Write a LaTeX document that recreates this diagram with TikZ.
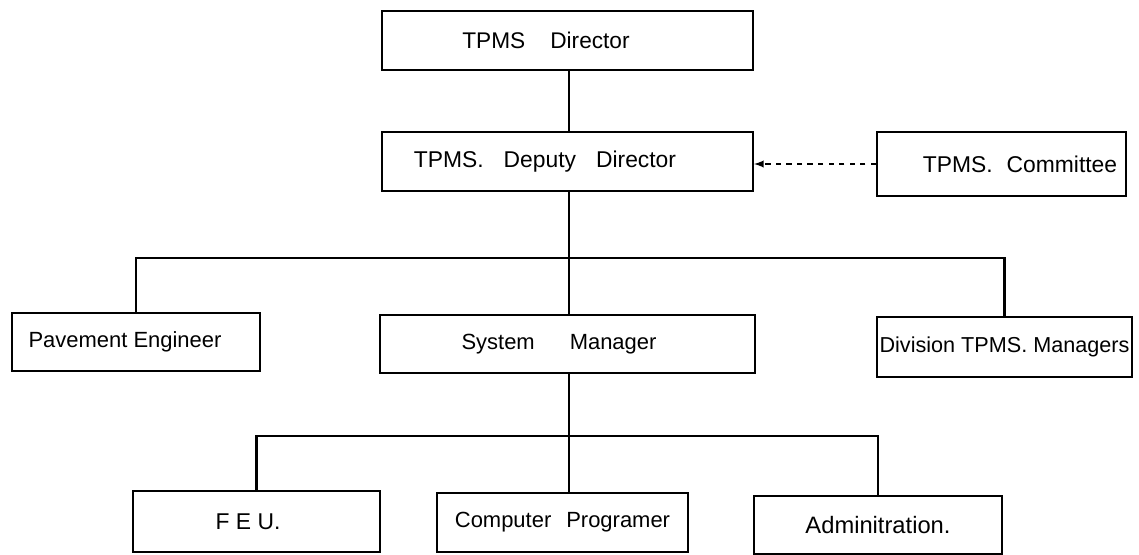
\documentclass[tikz,border=0pt]{standalone}
\usepackage{fontspec}
\setmainfont{Liberation Sans}

\begin{document}
\begin{tikzpicture}[box/.style = {draw, line width = 1.2pt, minimum height = 1.18cm, inner sep = 1pt}, link/.style = {line width = 1.2pt}]
                        \useasboundingbox (0, 0) rectangle (22.78, -11.08);
                        \node[box, minimum width = 7.42cm, font = \fontsize{12.9}{15}\selectfont] (director) at (11.35, -0.81) {TPMS\hspace{0.5cm}Director\hspace{0.86cm}\null};
                        \node[box, minimum width = 7.42cm, font = \fontsize{13}{15}\selectfont] (deputy) at (11.35, -3.23) {TPMS.\hspace{0.4cm}Deputy\hspace{0.4cm}Director\hspace{0.9cm}\null};
                        \node[box, minimum width = 4.98cm, minimum height = 1.28cm, font = \fontsize{13}{15}\selectfont] (committee) at (20.03, -3.28) {\hspace{0.74cm}TPMS.\hspace{0.28cm}Committee};
                        \node[box, minimum width = 4.96cm, minimum height = 1.16cm, font = \fontsize{12.5}{15}\selectfont] (paveng) at (2.72, -6.84) {Pavement Engineer\hspace{0.44cm}\null};
                        \node[box, minimum width = 7.5cm, minimum height = 1.16cm, font = \fontsize{12.5}{15}\selectfont] (sysman) at (11.35, -6.88) {System\hspace{0.7cm}Manager\hspace{0.34cm}\null};
                        \node[box, minimum width = 5.1cm, minimum height = 1.2cm, font = \fontsize{12.3}{15}\selectfont] (divman) at (20.09, -6.94) {Division TPMS. Managers};
                        \node[box, minimum width = 4.94cm, minimum height = 1.22cm, font = \fontsize{13}{15}\selectfont] (feu) at (5.13, -10.43) {F\ E\ U.\hspace{0.34cm}\null};
                        \node[box, minimum width = 5.02cm, font = \fontsize{12.5}{15}\selectfont] (comprog) at (11.25, -10.45) {Computer\hspace{0.3cm}Programer};
                        \node[box, minimum width = 4.96cm, minimum height = 1.16cm, font = \fontsize{13.5}{16}\selectfont] (admin) at (17.56, -10.5) {Adminitration.};
                        % spine and branch points
                        \coordinate (spine) at (11.38, 0);
                        \coordinate (hub1) at (11.38, -5.16);
                        \coordinate (hub2) at (11.38, -8.72);
                        \draw[link] (spine |- director.south) -- (spine |- deputy.north);
                        \draw[link] (spine |- deputy.south) -- (spine |- sysman.north);
                        \draw[link] (paveng.north) |- (hub1) -| (divman.north);
                        \draw[link] (spine |- sysman.south) -- (spine |- comprog.north);
                        \draw[link] (feu.north) |- (hub2) -| (admin.north);
                        \draw[-latex, dashed, line width = 0.9pt] (committee.west) -- (committee.west -| deputy.east);
                  \end{tikzpicture}
\end{document}
